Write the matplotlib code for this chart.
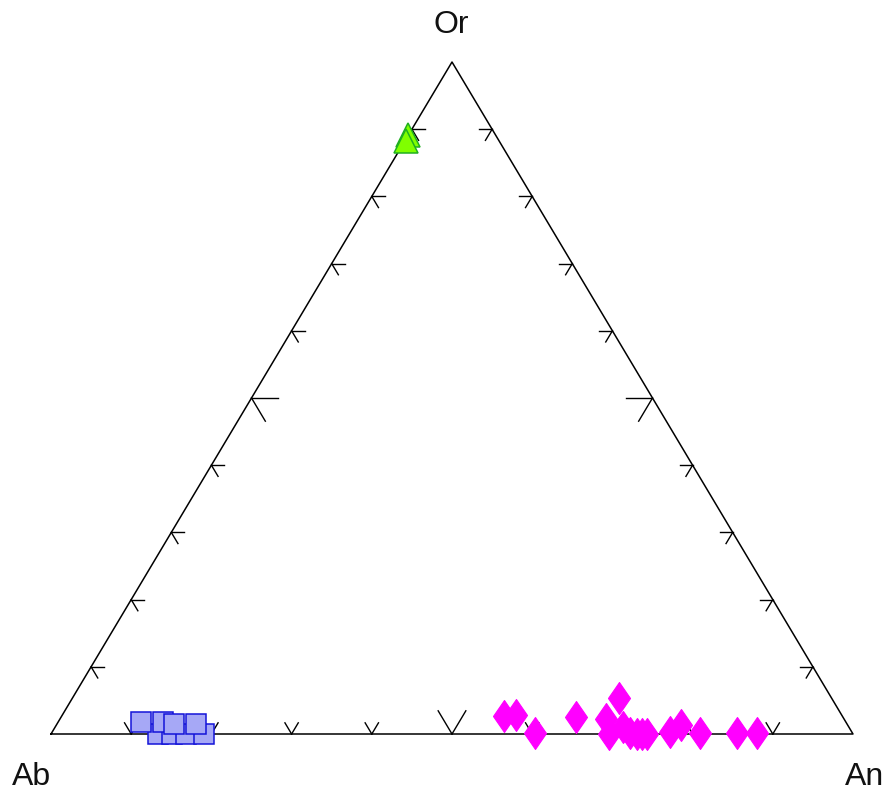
import numpy as np
import matplotlib.pyplot as plt
from matplotlib.path import Path

plt.rcParams['font.family'] = ['Liberation Sans', 'DejaVu Sans']

# feldspar compositions in mol% (Ab, An, Or)
kfs_ab = [10.9, 11.6]
kfs_an = [0.0, 0.2]
kfs_or = [89.1, 88.2]

alb_ab = [86.7, 84.9, 83.2, 80.9, 87.9, 85.1, 83.9, 81.2]
alb_an = [13.3, 15.1, 16.8, 19.1, 10.3, 13.1, 14.6, 17.3]
alb_or = [0.0, 0.0, 0.0, 0.0, 1.8, 1.8, 1.5, 1.5]

plag_ab = [42.2, 40.6, 39.6, 33.3, 26.5, 29.7, 30.4, 28.2, 27.8, 26.9,
           26.3, 25.7, 22.7, 20.8, 19.0, 14.4, 11.9]
plag_an = [55.1, 56.6, 60.3, 64.2, 68.1, 68.1, 69.6, 70.8, 72.1, 73.1,
           73.7, 74.3, 77.0, 77.9, 80.9, 85.5, 88.0]
plag_or = [2.7, 2.8, 0.1, 2.5, 5.4, 2.2, 0.0, 1.0, 0.1, 0.0,
           0.0, 0.0, 0.3, 1.3, 0.1, 0.1, 0.1]

apex_names = ['Ab', 'An', 'Or']
tick_steps = [0.1, 0.2, 0.3, 0.4, 0.5, 0.6, 0.7, 0.8, 0.9]

H = 672 / 802  # diagram height relative to base


def to_xy(ab, an, orr):
    ab, an, orr = (np.asarray(v, float) for v in (ab, an, orr))
    tot = ab + an + orr
    return (an + 0.5 * orr) / tot, H * orr / tot


fig = plt.figure(figsize=(8.87, 7.91), dpi=100)
ax = fig.add_axes([0, 0, 1, 1])
ax.set_xlim(-51 / 802, 836 / 802)
ax.set_ylim(-57 / 802, 734 / 802)
ax.axis('off')

verts = np.array([to_xy(1, 0, 0), to_xy(0, 1, 0), to_xy(0, 0, 1)])
ax.plot(np.append(verts[:, 0], verts[0, 0]), np.append(verts[:, 1], verts[0, 1]),
        color='black', lw=1.1, zorder=2)

# inward ticks along each edge, parallel to the other two sides
px = 1 / 802
for i, j, k in [(0, 2, 1), (0, 1, 2), (1, 2, 0)]:
    vi, vj, vk = verts[i], verts[j], verts[k]
    d1 = (vk - vi) / np.linalg.norm(vk - vi)
    d2 = (vk - vj) / np.linalg.norm(vk - vj)
    for t in tick_steps:
        p = vi + t * (vj - vi)
        ln = 27 * px if abs(t - 0.5) < 1e-9 else 13 * px
        for d in (d1, d2):
            ax.plot([p[0], p[0] + ln * d[0]], [p[1], p[1] + ln * d[1]],
                    color='black', lw=1.0, zorder=2)

diamond = Path([(0, 1), (0.69, 0), (0, -1), (-0.69, 0), (0, 1)],
               [Path.MOVETO, Path.LINETO, Path.LINETO, Path.LINETO, Path.CLOSEPOLY])

x, y = to_xy(alb_ab, alb_an, alb_or)
for xi, yi in zip(x, y):
    ax.plot(xi, yi, 's', ms=15, mfc='#a6a8f6', mec='#1414d8', mew=1.1, zorder=3)

x, y = to_xy(plag_ab, plag_an, plag_or)
ax.plot(x, y, ls='none', marker=diamond, ms=23, mfc='#ff00ff', mec='#ff00ff',
        mew=0.8, zorder=3)

x, y = to_xy(kfs_ab, kfs_an, kfs_or)
for xi, yi in zip(x, y):
    ax.plot(xi, yi, '^', ms=17, mfc='#80ff00', mec='#20b020', mew=1.1, zorder=3)

offsets = [(-19, -43), (12, -43), (-1, 37)]
for name, v, off in zip(apex_names, verts, offsets):
    ax.annotate(name, xy=v, xytext=off, textcoords='offset pixels',
                ha='center', va='center', fontsize=23, color='#111111')

fig.savefig('out.png', dpi=100)
